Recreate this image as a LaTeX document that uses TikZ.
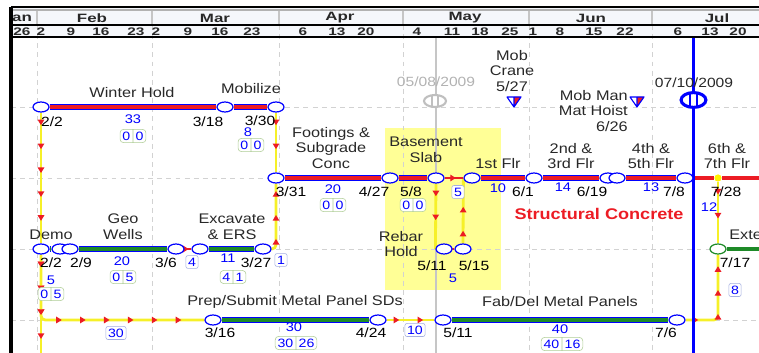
\documentclass[tikz,border=0pt]{standalone}
\usepackage{fontspec}
\setmainfont[FakeStretch=1.17]{Liberation Sans}
\newfontfamily\hdrfont[FakeStretch=1.4]{Liberation Sans}
\usetikzlibrary{arrows.meta,positioning,shapes.geometric,shapes.multipart,decorations.markings}
\definecolor{pvred}{RGB}{236,28,36}
\definecolor{pvgreen}{RGB}{30,138,40}
\definecolor{pvyellow}{RGB}{246,240,40}
\definecolor{hilite}{RGB}{255,255,150}
\definecolor{hdrbg}{RGB}{245,247,251}
\definecolor{lagedge}{RGB}{165,175,225}
\definecolor{fltedge}{RGB}{175,205,150}
\definecolor{ink}{RGB}{40,40,40}
\pgfdeclarelayer{bg}
\pgfdeclarelayer{lk}
\pgfsetlayers{bg,lk,main}

\begin{document}
\begin{tikzpicture}[x=0.025cm, y=-0.025cm,
    ev/.style={ellipse, draw=blue, fill=white, line width=0.85pt, minimum width=0.4cm, minimum height=0.25cm, inner sep=0pt},
    crit/.style={draw=blue, line width=4.6pt, postaction={draw=pvred, line width=2.8pt}},
    ncrit/.style={draw=blue, line width=4.6pt, postaction={draw=pvgreen, line width=2.8pt}},
    link/.style={draw=pvyellow, line width=2pt, rounded corners=3pt, postaction={decorate},
      decoration={markings, mark=between positions 9pt and -5pt step 17pt with {\arrow{Triangle[color=pvred, length=4pt, width=4.6pt]}}}},
    rlink/.style={draw=pvred, line width=1.1pt, postaction={decorate},
      decoration={markings, mark=at position 0.6 with {\arrow{Triangle[color=pvred, length=4pt, width=4.6pt]}}}},
    gridline/.style={gray!35, line width=0.7pt, dash pattern=on 3.5pt off 3pt},
    lbl/.style={align=center, text=ink, inner sep=0pt, font=\fontsize{9.9}{11.3}\selectfont},
    dt/.style={text=black, inner sep=0pt, font=\fontsize{9.5}{11}\selectfont},
    num/.style={text=blue, inner sep=0pt, font=\fontsize{8.9}{10}\selectfont},
    lag/.style={draw=lagedge, fill=white, rounded corners=1.5pt, text=blue, inner sep=1.6pt, font=\fontsize{8.6}{9.5}\selectfont},
    flt/.style={rectangle split, rectangle split horizontal, rectangle split parts=2, draw=fltedge, fill=white,
      rounded corners=2.5pt, text=blue, inner sep=1.7pt, font=\fontsize{8.6}{9.5}\selectfont},
    mon/.style={inner sep=0pt, text=ink, font=\hdrfont\bfseries\fontsize{8.6}{9}\selectfont},
    day/.style={inner sep=0pt, text=ink, font=\hdrfont\bfseries\fontsize{7.8}{9}\selectfont},
    ddg/.style={ellipse, draw=gray!50, fill=white, line width=1.5pt, minimum width=0.55cm, minimum height=0.3cm, inner sep=0pt,
      path picture={\draw[gray!50, line width=1.1pt] ([xshift=-2pt]path picture bounding box.north) -- ([xshift=-2pt]path picture bounding box.south)
        ([xshift=2pt]path picture bounding box.north) -- ([xshift=2pt]path picture bounding box.south);}},
    ddb/.style={ellipse, draw=blue, fill=white, line width=2.2pt, minimum width=0.62cm, minimum height=0.37cm, inner sep=0pt,
      path picture={\draw[blue, line width=1.4pt] ([xshift=-2.4pt]path picture bounding box.north) -- ([xshift=-2.4pt]path picture bounding box.south)
        ([xshift=2.4pt]path picture bounding box.north) -- ([xshift=2.4pt]path picture bounding box.south);}},
    milestone/.pic={\fill[white] (-7,-5) -- (7,-5) -- (0,5) -- cycle;
      \fill[pvred] (0,-5) -- (7,-5) -- (0,5) -- cycle;
      \draw[blue, line width=0.8pt, line join=round] (-7,-5) -- (7,-5) -- (0,5) -- cycle (0,-5) -- (0,5);}]
\useasboundingbox (0,0) rectangle (759,353);

% time grid (x: 4.1px per day, Feb 1 at x=37)
\begin{pgfonlayer}{bg}
  \fill[hdrbg] (11,8) rectangle (759,37);
  \fill[hilite] (385,128) rectangle (501,290);
  \foreach \x in {37,152,279,403,529,652} {
    \draw[gray!45, line width=0.8pt] (\x,10) -- (\x,25);
    \draw[gridline] (\x,25) -- (\x,353);
  }
  \foreach \y in {107,178,249,320} \draw[gridline] (11,\y) -- (759,\y);
  \coordinate (ddGtop) at (436,37);
  \coordinate (ddGbot) at (436,353);
  \draw[gray!45, line width=1.3pt] (ddGtop) -- (ddGbot);
\end{pgfonlayer}

% header
\foreach \x/\m in {22/an,92/Feb,215/Mar,340/Apr,465/May,591/Jun,717/Jul}
  \node[mon] (m\m) at (\x,18) {\m};
\foreach \x/\d in {22/26,41/2,71/9,101/16,136/23,156/2,188/9,220/16,252/23,303/6,337/13,366/20,
    417/4,452/11,480/18,510/25,533/1,560/8,594/15,625/22,678/6,710/13,738/20}
  \node[day] (d\x) at (\x,31.5) {\d};
\draw[gray!60, line width=0.8pt] (11,10) -- (759,10);
\draw[line width=1.3pt] (11,25) -- (759,25);
\draw[line width=1.3pt] (11,37) -- (759,37);
\draw[line width=2pt] (11,7) -- (759,7);
\draw[line width=2.2pt] (11,7) -- (11,353);

% data dates
\node[ddg] (ddG) at (435,101) {};
\node[lbl, text=gray!60, font=\fontsize{9.5}{11}\selectfont] (tddG) at (436,82) {05/08/2009};
\node[ddb] (ddB) at (693.5,100) {};
\node[lbl, font=\fontsize{9.5}{11}\selectfont] (tddB) at (694,83) {07/10/2009};
\coordinate (ddBtop) at (693.5,37);
\coordinate (ddBbot) at (693.5,353);

% milestones
\pic (msCrane) at (514,102) {milestone};
\pic (msHoist) at (637,102) {milestone};
\node[lbl] (tCrane) at (512,71) {Mob\\Crane\\5/27};
\node[lbl, align=right, anchor=east] (tHoist) at (628,111) {Mob Man\\Mat Hoist\\6/26};

% events
\node[ev] (a) at (41,107) {};
\node[ev] (b) at (225,107) {};
\node[ev] (c) at (276,107) {};
\node[ev] (d) at (276,178) {};
\node[ev] (e) at (390,178) {};
\node[ev] (f) at (436,178) {};
\node[ev] (g) at (472,178) {};
\node[ev] (h) at (534,178) {};
\node[ev] (i1) at (608,178) {};
\node[ev] (i2) at (617,178) {};
\node[ev] (j) at (685,178) {};
\node[circle, fill=yellow, inner sep=0pt, minimum size=0.18cm] (ydot) at (718,178) {};
\node[ev] (dm1) at (41,249) {};
\node[ev] (dm2) at (60,249) {};
\node[ev] (gw1) at (70,249) {};
\node[ev] (gw2) at (176,249) {};
\node[ev] (ex1) at (200,249) {};
\node[ev] (ex2) at (263,249) {};
\node[ev] (rh1) at (444,249) {};
\node[ev] (rh2) at (463,249) {};
\node[ev, draw=pvgreen] (ext) at (718,249) {};
\node[ev] (k) at (213,320) {};
\node[ev] (l) at (378,320) {};
\node[ev] (m) at (443,320) {};
\node[ev] (n) at (677,320) {};
\coordinate (rEnd) at (759,178);
\coordinate (gEnd) at (759,249);
\coordinate (lEnd) at (41,353);

% activity names
\node[lbl] (tWH) at (132,93) {Winter Hold};
\node[lbl] (tMob) at (251,89) {Mobilize};
\node[lbl] (tFoot) at (331,148) {Footings \&\\Subgrade\\Conc};
\node[lbl] (tSlab) at (426,150) {Basement\\Slab};
\node[lbl] (tF1) at (498,164) {1st Flr};
\node[lbl] (tF23) at (571,156) {2nd \&\\3rd Flr};
\node[lbl] (tF45) at (651,156) {4th \&\\5th Flr};
\node[lbl] (tF67) at (727,156) {6th \&\\7th Flr};
\node[lbl] (tDemo) at (51,235) {Demo};
\node[lbl] (tGeo) at (123,227) {Geo\\Wells};
\node[lbl] (tExc) at (232,227) {Excavate\\\& ERS};
\node[lbl] (tRebar) at (401,244) {Rebar\\Hold};
\node[lbl, anchor=west] (tExt) at (729,235) {Exte};
\node[lbl] (tPrep) at (295,302) {Prep/Submit Metal Panel SDs};
\node[lbl] (tFab) at (560,302) {Fab/Del Metal Panels};
\node[lbl, text=pvred, font=\bfseries\fontsize{11}{12}\selectfont] (tSC) at (599,214) {Structural Concrete};

% dates, durations, lags, floats
\foreach \x/\y/\t [count=\i] in {52/122/{2/2},208/122/{3/18},260/121/{3/30},291/192/{3/31},374/192/{4/27},
    411/192/{5/8},523/192/{6/1},592/192/{6/19},674/192/{7/8},726/192/{7/28},51/263/{2/2},81/263/{2/9},
    166/263/{3/6},256/263/{3/27},432/266/{5/11},474/266/{5/15},735/263/{7/17},220/333/{3/16},
    371/333/{4/24},458/333/{5/11},666/333/{7/6}}
  \node[dt] (date\i) at (\x,\y) {\t};
\foreach \x/\y/\t [count=\i] in {133/119/33,248/132.5/8,333/189/20,498/188/10,563/187/14,651/187/13,
    709/207/12,122/261/20,228/258/11,51/280/5,453/278/5,294/327/30,560/329/40}
  \node[num] (dur\i) at (\x,\y) {\t};
\foreach \x/\y/\t [count=\i] in {458/192/5,192/262/4,281/260/1,735/290/8,116/333/30,415/330/10}
  \node[lag] (lag\i) at (\x,\y) {\t};
\foreach \x/\y/\p/\q [count=\i] in {133/136/0/0,251/145/0/0,333/205/0/0,413/205/0/0,123/277/0/5,
    233/277/4/1,51/294/0/5,296/343/30/26,562/344/40/16}
  \node[flt] (flt\i) at (\x,\y) {\p\nodepart{two}\q};

% bars and relationships
\begin{pgfonlayer}{lk}
  \draw[crit] (a) -- (b);
  \draw[crit] (b) -- (c);
  \draw[crit] (d) -- (e);
  \draw[crit] (e) -- (f);
  \draw[crit] (g) -- (h);
  \draw[crit] (h) -- (i1);
  \draw[crit] (i2) -- (j);
  \draw[pvred, line width=3pt] (j) -- (ydot) -- (rEnd);
  \draw[ncrit] (dm1) -- (dm2);
  \draw[ncrit] (gw1) -- (gw2);
  \draw[ncrit] (ex1) -- (ex2);
  \draw[ncrit] (k) -- (l);
  \draw[ncrit] (m) -- (n);
  \draw[pvgreen, line width=3pt] (ext) -- (gEnd);
  \draw[link] (a) -- (dm1);
  \draw[link] (dm1) -- (lEnd);
  \draw[link] (dm1) |- (k);
  \draw[link] (c) -- (d);
  \draw[link] (ex2) -| (d);
  \draw[link] (f.south) -- (rh1.west);
  \draw[link] (rh2.north) -- (g.west);
  \draw[link] (l) -- (m);
  \draw[link] (n) -| (ext);
  \draw[link] (ydot) -- (ext);
  \draw[rlink] (f) -- (g);
  \draw[rlink] (gw2) -- (ex1);
  \draw[rlink] (rh1) -- (rh2);
  \draw[blue, line width=1.9pt] (ddBtop) -- (ddBbot);
\end{pgfonlayer}
\end{tikzpicture}
\end{document}
